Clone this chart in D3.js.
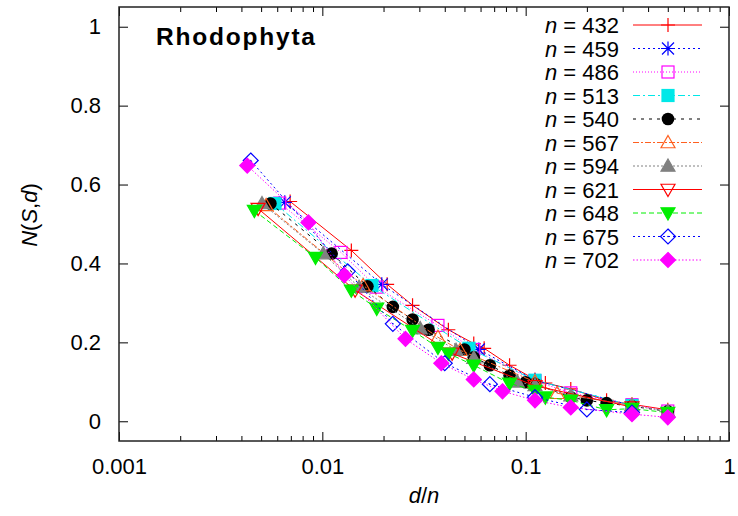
<!DOCTYPE html>
<html><head><meta charset="utf-8">
<script src="https://cdn.jsdelivr.net/npm/d3@7"></script>
<style>body{margin:0;background:#fff}svg{display:block}</style>
</head><body><svg id="c" width="738" height="516"></svg>
<script>
// ---- data (d values and N(S,d) values per series; x = d/n) ----
const seriesN = [432, 459, 486, 513, 540, 567, 594, 621, 648, 675, 702];
const d432 = [3,6,9,12,18,24,27,36,48,54,72,108,144,216];
const v432 = [0.557,0.433,0.347,0.294,0.232,0.197,0.185,0.142,0.106,0.097,0.082,0.053,0.043,0.029];
const d459 = [3,9,27,51,153];
const v459 = [0.555,0.347,0.182,0.104,0.040];
const d486 = [3,6,9,18,27,54,81,162,243];
const v486 = [0.553,0.428,0.340,0.243,0.182,0.102,0.072,0.042,0.026];
const d513 = [3,9,27,57,171];
const v513 = [0.552,0.344,0.185,0.104,0.040];
const d540 = [3,6,9,12,15,18,27,30,36,45,54,60,90,108,135,180,270];
const v540 = [0.552,0.425,0.342,0.290,0.258,0.232,0.182,0.162,0.142,0.116,0.099,0.095,0.061,0.053,0.046,0.038,0.025];
const d567 = [3,9,21,27,63,81,189];
const v567 = [0.547,0.344,0.213,0.180,0.100,0.071,0.040];
const d594 = [3,6,9,18,27,33,54,66,99,198,297];
const v594 = [0.552,0.425,0.340,0.235,0.180,0.160,0.100,0.091,0.065,0.040,0.025];
const d621 = [3,9,27,69,207];
const v621 = [0.539,0.332,0.172,0.090,0.036];
const d648 = [3,6,9,12,18,24,27,36,54,72,81,108,162,216,324];
const v648 = [0.534,0.415,0.332,0.286,0.230,0.187,0.172,0.142,0.096,0.078,0.061,0.053,0.029,0.032,0.022];
const d675 = [3,9,15,27,45,75,135,225];
const v675 = [0.661,0.380,0.247,0.147,0.094,0.061,0.030,0.022];
const d702 = [3,6,9,18,27,39,54,78,117,234,351];
const v702 = [0.648,0.504,0.370,0.209,0.147,0.106,0.076,0.053,0.035,0.018,0.010];
const seriesD = [d432,d459,d486,d513,d540,d567,d594,d621,d648,d675,d702];
const seriesV = [v432,v459,v486,v513,v540,v567,v594,v621,v648,v675,v702];
const xTicks = [0.001, 0.01, 0.1, 1];
const xTickLabels = ["0.001", "0.01", "0.1", "1"];
const yTicks = [0, 0.2, 0.4, 0.6, 0.8, 1];
const yTickLabels = ["0", "0.2", "0.4", "0.6", "0.8", "1"];
const title = "Rhodophyta";

// ---- styles ----
const styles = [
  {color:"#ff0000", dash:null,            mark:"plus"},
  {color:"#0000ff", dash:"2,3",           mark:"star"},
  {color:"#ff00ff", dash:"1,2",           mark:"sqOpen"},
  {color:"#00e8e8", dash:"7,3,2,3",       mark:"sqFill"},
  {color:"#000000", dash:"3,5",           mark:"circle"},
  {color:"#ff6020", dash:"6,2,2,2",       mark:"triUpOpen"},
  {color:"#808080", dash:"2,2",           mark:"triUpFill"},
  {color:"#ff0000", dash:null,            mark:"triDnOpen"},
  {color:"#00ee00", dash:"5,3",           mark:"triDnFill"},
  {color:"#0000ff", dash:"2,3",           mark:"diaOpen"},
  {color:"#ff00ff", dash:"1.5,2",         mark:"diaFill"}
];

const FONT = "'Liberation Sans', Arial, Helvetica, sans-serif";
const svg = d3.select("#c");
const L = 119, R = 729, T = 7, B = 441;
const x = d3.scaleLog().domain([0.001, 1]).range([L, R]);
const y = d3.scaleLinear().domain([-0.05, 1.05]).range([B, T]);

// minor ticks
const minors = [];
[0.001, 0.01, 0.1].forEach(dec => { for (let k = 2; k <= 9; k++) minors.push(dec * k); });

function styleAxis(g){
  g.select(".domain").remove();
  g.selectAll(".tick line").attr("stroke", "#000").attr("stroke-width", 1);
  g.selectAll("text").attr("font-family", FONT).attr("font-size", 22).attr("fill", "#000");
}
// bottom major
svg.append("g").attr("transform", `translate(0,${B})`)
  .call(d3.axisBottom(x).tickValues(xTicks).tickSize(-9).tickPadding(17)
    .tickFormat((d,i) => xTickLabels[i])).call(styleAxis);
// bottom minor
svg.append("g").attr("transform", `translate(0,${B})`)
  .call(d3.axisBottom(x).tickValues(minors).tickSize(-5).tickFormat("")).call(styleAxis);
// top major & minor
svg.append("g").attr("transform", `translate(0,${T})`)
  .call(d3.axisTop(x).tickValues(xTicks).tickSize(-9).tickFormat("")).call(styleAxis);
svg.append("g").attr("transform", `translate(0,${T})`)
  .call(d3.axisTop(x).tickValues(minors).tickSize(-5).tickFormat("")).call(styleAxis);
// left
svg.append("g").attr("transform", `translate(${L},0)`)
  .call(d3.axisLeft(y).tickValues(yTicks).tickSize(-9).tickPadding(18)
    .tickFormat((d,i) => yTickLabels[i])).call(styleAxis);
// right
svg.append("g").attr("transform", `translate(${R},0)`)
  .call(d3.axisRight(y).tickValues(yTicks).tickSize(-9).tickFormat("")).call(styleAxis);

// frame
svg.append("rect").attr("x", L).attr("y", T).attr("width", R - L).attr("height", B - T)
  .attr("fill", "none").attr("stroke", "#222").attr("stroke-width", 1.5);

// axis titles
const yl = svg.append("text").attr("transform", "translate(37,215) rotate(-90)")
  .attr("text-anchor", "middle").attr("font-family", FONT).attr("font-size", 22);
yl.append("tspan").attr("font-style", "italic").text("N");
yl.append("tspan").text("(");
yl.append("tspan").attr("font-style", "italic").text("S");
yl.append("tspan").text(",");
yl.append("tspan").attr("font-style", "italic").text("d");
yl.append("tspan").text(")");

const xl = svg.append("text").attr("x", 424).attr("y", 503)
  .attr("text-anchor", "middle").attr("font-family", FONT).attr("font-size", 22);
xl.append("tspan").attr("font-style", "italic").text("d");
xl.append("tspan").text("/");
xl.append("tspan").attr("font-style", "italic").text("n");

// title
svg.append("text").attr("x", 156).attr("y", 45).attr("font-family", FONT)
  .attr("font-size", 24.5).attr("font-weight", "bold")
  .attr("textLength", 159).attr("lengthAdjust", "spacing").text(title);

// marker drawing
function drawMark(g, type, color, cx, cy){
  const s = 6;
  const sw = 1.2;
  if (type === "plus") {
    g.append("path").attr("d", `M${cx-s-1},${cy}H${cx+s+1}M${cx},${cy-s-1}V${cy+s+1}`)
      .attr("stroke", color).attr("stroke-width", sw).attr("fill", "none");
  } else if (type === "star") {
    const a = s;
    g.append("path").attr("d",
      `M${cx-a-1},${cy}H${cx+a+1}M${cx},${cy-a-1}V${cy+a+1}M${cx-a},${cy-a}L${cx+a},${cy+a}M${cx-a},${cy+a}L${cx+a},${cy-a}`)
      .attr("stroke", color).attr("stroke-width", sw).attr("fill", "none");
  } else if (type === "sqOpen" || type === "sqFill") {
    g.append("rect").attr("x", cx - s).attr("y", cy - s).attr("width", 2*s).attr("height", 2*s)
      .attr("fill", type === "sqFill" ? color : "none").attr("stroke", color).attr("stroke-width", sw);
  } else if (type === "circle") {
    g.append("circle").attr("cx", cx).attr("cy", cy).attr("r", s + 0.3).attr("fill", color);
  } else if (type.startsWith("tri")) {
    const up = type.startsWith("triUp");
    const h = s + 1;
    const pts = up
      ? [[cx, cy - h], [cx + h, cy + h*0.75], [cx - h, cy + h*0.75]]
      : [[cx, cy + h], [cx + h, cy - h*0.75], [cx - h, cy - h*0.75]];
    g.append("path").attr("d", d3.line()(pts) + "Z")
      .attr("fill", type.endsWith("Fill") ? color : "none").attr("stroke", color).attr("stroke-width", sw);
  } else if (type.startsWith("dia")) {
    const h = s + 1.5;
    const pts = [[cx, cy - h], [cx + h, cy], [cx, cy + h], [cx - h, cy]];
    g.append("path").attr("d", d3.line()(pts) + "Z")
      .attr("fill", type === "diaFill" ? color : "none").attr("stroke", color).attr("stroke-width", sw);
    if (type === "diaOpen") g.append("circle").attr("cx", cx).attr("cy", cy).attr("r", 0.8).attr("fill", color);
  }
}

// series
const line = d3.line().x(p => x(p[0])).y(p => y(p[1]));
seriesN.forEach((n, i) => {
  const st = styles[i];
  const pts = seriesD[i].map((d, j) => [d / n, seriesV[i][j]]);
  const g = svg.append("g");
  g.append("path").attr("d", line(pts)).attr("fill", "none").attr("stroke", st.color)
    .attr("stroke-width", 1).attr("stroke-dasharray", st.dash);
  pts.forEach(p => drawMark(g, st.mark, st.color, x(p[0]), y(p[1])));
});

// legend
const legTop = 25, legStep = 23.5;
seriesN.forEach((n, i) => {
  const st = styles[i];
  const cy = legTop + i * legStep;
  const t = svg.append("text").attr("x", 619).attr("y", cy + 8).attr("text-anchor", "end")
    .attr("font-family", FONT).attr("font-size", 22);
  t.append("tspan").attr("font-style", "italic").text("n");
  t.append("tspan").text(" = " + n);
  const g = svg.append("g");
  g.append("line").attr("x1", 633).attr("x2", 702).attr("y1", cy).attr("y2", cy)
    .attr("stroke", st.color).attr("stroke-width", 1).attr("stroke-dasharray", st.dash);
  drawMark(g, st.mark, st.color, 668, cy);
});
</script></body></html>
